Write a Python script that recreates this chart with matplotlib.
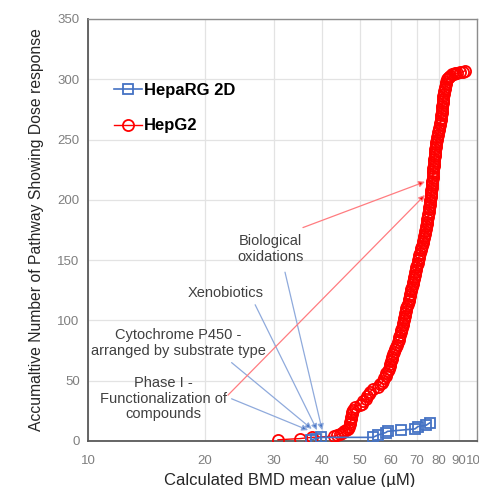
import matplotlib

matplotlib.use('Agg')
import matplotlib.pyplot as plt  # noqa: E402

plt.rcParams['font.family'] = ['Liberation Sans', 'DejaVu Sans']

# HepaRG 2D: calculated BMD (uM) vs accumulated pathway count
heparg_bmd = [37.4, 38.5, 39.7, 54.0, 55.7, 58.3, 58.9, 63.8, 69.3, 70.5, 74.0, 75.6]
heparg_count = [1, 2, 3, 3, 5, 7, 8, 9, 10, 12, 13, 15]

# HepG2: calculated BMD (uM) vs accumulated pathway count
hepg2_bmd = [30.8, 35.1, 37.6, 43.0, 43.8, 44.4, 45.0, 45.6, 46.1, 46.6,
             47.0, 47.2, 47.3, 47.4, 47.5, 47.6, 47.7, 47.9, 48.6, 50.0,
             50.6, 51.0, 51.8, 52.3, 52.7, 53.1, 54.2, 55.6, 56.4, 56.9,
             57.3, 57.8, 58.2, 58.5, 58.9, 59.3, 59.7, 59.9, 60.2, 60.4,
             60.6, 60.8, 61.2, 61.6, 62.0, 62.3, 62.6, 62.9, 63.2, 63.5,
             63.7, 63.9, 64.2, 64.4, 64.6, 64.8, 65.0, 65.2, 65.4, 65.7,
             65.9, 66.1, 66.4, 66.7, 66.9, 67.2, 67.4, 67.6, 67.8, 68.1,
             68.3, 68.5, 68.7, 68.9, 69.1, 69.3, 69.6, 69.9, 70.2, 70.4,
             70.6, 70.8, 71.1, 71.4, 71.6, 71.9, 72.2, 72.5, 72.8, 73.0,
             73.2, 73.4, 73.6, 73.8, 74.0, 74.2, 74.4, 74.6, 74.8, 75.0,
             75.1, 75.3, 75.5, 75.6, 75.7, 75.9, 76.0, 76.2, 76.3, 76.4,
             76.5, 76.6, 76.7, 76.8, 76.9, 77.0, 77.1, 77.2, 77.3, 77.4,
             77.5, 77.6, 77.7, 77.8, 77.9, 78.0, 78.1, 78.3, 78.4, 78.6,
             78.8, 79.1, 79.3, 79.6, 79.8, 80.1, 80.3, 80.5, 80.6, 80.8,
             80.9, 81.1, 81.2, 81.3, 81.4, 81.6, 81.7, 81.9, 82.0, 82.3,
             82.5, 82.7, 82.9, 83.1, 83.4, 83.8, 84.3, 84.8, 85.5, 86.3,
             87.2, 88.0, 89.0, 90.5, 92.0, 93.0]
hepg2_count = [1, 2, 3, 4, 5, 6, 7, 8, 9, 10,
               12, 14, 16, 18, 20, 22, 24, 26, 28, 30,
               31, 33, 35, 37, 39, 41, 43, 45, 47, 48,
               50, 52, 54, 56, 58, 60, 62, 64, 66, 68,
               70, 72, 74, 76, 78, 80, 82, 84, 86, 88,
               90, 92, 94, 96, 98, 100, 102, 104, 106, 108,
               110, 112, 114, 116, 118, 120, 122, 124, 126, 128,
               130, 132, 134, 136, 138, 140, 142, 144, 146, 148,
               150, 152, 154, 156, 158, 160, 162, 164, 166, 168,
               170, 172, 174, 176, 178, 180, 182, 184, 186, 188,
               190, 192, 194, 196, 198, 200, 202, 204, 206, 208,
               210, 212, 214, 216, 218, 220, 222, 224, 226, 228,
               230, 232, 234, 236, 238, 240, 242, 244, 246, 248,
               250, 252, 254, 256, 258, 260, 262, 264, 266, 268,
               270, 272, 274, 276, 278, 280, 282, 284, 286, 288,
               290, 292, 294, 296, 298, 300, 301, 302, 303, 304,
               304, 305, 305, 306, 306, 307]

x_ticks = [10, 20, 30, 40, 50, 60, 70, 80, 90, 100]
y_ticks = [0, 50, 100, 150, 200, 250, 300, 350]

# annotations: label, text position, [(start, target, colour), ...]
annotations = [
    ('Biological\noxidations', (29.4, 159),
     [((32.1, 140), (40.0, 9), '#8faadc'), ((35.7, 177), (73.5, 215), '#ff7c80')]),
    ('Xenobiotics', (22.6, 122.5),
     [((26.9, 113), (38.8, 9), '#8faadc')]),
    ('Cytochrome P450 -\narranged by substrate type', (17.1, 81),
     [((23.4, 65), (37.6, 10), '#8faadc')]),
    ('Phase I -\nFunctionalization of\ncompounds', (15.6, 35),
     [((23.4, 35), (36.8, 9), '#8faadc'), ((22.9, 38), (73.5, 204), '#ff7c80')]),
]

figure = plt.figure(figsize=(4.79, 4.87), dpi=100)
axis = figure.add_axes([0.1837, 0.0945, 0.812, 0.8665])

axis.plot(hepg2_bmd, hepg2_count, color='#ff0000', lw=1, marker='o', ms=8,
          mfc='none', mec='#ff0000', mew=1.3, label='HepG2', zorder=3)
axis.plot(heparg_bmd, heparg_count, color='#4472c4', lw=1.2, marker='s', ms=7,
          mfc='none', mec='#4472c4', mew=1.3, label='HepaRG 2D', zorder=4)

for text, pos, arrows in annotations:
    axis.text(pos[0], pos[1], text, ha='center', va='center', fontsize=10.5,
              color='#404040', linespacing=1.15, zorder=5)
    for start, target, colour in arrows:
        head = '#4472c4' if colour == '#8faadc' else '#ff0000'
        axis.annotate('', xy=target, xytext=start,
                      arrowprops=dict(arrowstyle='-|>', color=colour, lw=0.9,
                                      mutation_scale=9, shrinkA=0, shrinkB=0,
                                      fc=head), zorder=6)

axis.set_xscale('log')
axis.set_xlim(10, 100)
axis.set_ylim(0, 350)
axis.set_xticks(x_ticks, labels=[str(t) for t in x_ticks])
axis.minorticks_off()
axis.set_yticks(y_ticks)
axis.tick_params(length=0, labelsize=9.5, labelcolor='#7f7f7f')
axis.tick_params(axis='x', pad=10)
axis.tick_params(axis='y', pad=6)
axis.grid(True, color='#e3e3e3', lw=0.9)
axis.set_axisbelow(True)
for side in ['left', 'bottom']:
    axis.spines[side].set_color('#595959')
    axis.spines[side].set_linewidth(1.3)
for side in ['top', 'right']:
    axis.spines[side].set_color('#8c8c8c')
    axis.spines[side].set_linewidth(1.0)

axis.set_xlabel('Calculated BMD mean value (\u00b5M)', fontsize=12, color='#262626')
axis.xaxis.set_label_coords(0.519, -0.075)
axis.set_ylabel('Accumaltive Number of Pathway Showing Dose response', fontsize=11.3,
                color='#262626', labelpad=10)

handles, labels = axis.get_legend_handles_labels()
axis.legend(handles[::-1], labels[::-1], loc='upper left', bbox_to_anchor=(0.05, 0.865),
            frameon=False, prop={'weight': 'bold', 'size': 12}, handlelength=1.7,
            handletextpad=0.1, labelspacing=1.25, borderaxespad=0)

figure.savefig('out.png', dpi=100)
